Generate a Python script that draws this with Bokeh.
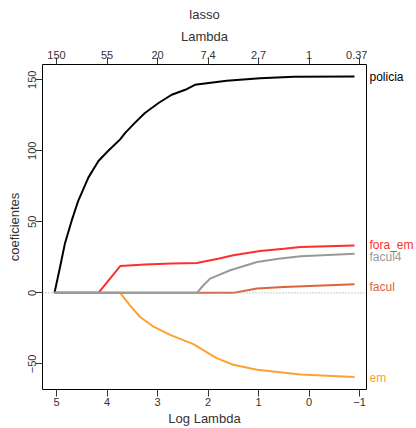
from bokeh.plotting import figure
from bokeh.models import Range1d, LinearAxis, FixedTicker, Title
from bokeh.layouts import row
from bokeh.embed import file_html
from bokeh.resources import INLINE
from bokeh.core.properties import value

# ---- data ----
series_names = ["policia", "fora_em", "em", "facul", "facul4"]
series_colors = ["#000000", "#FF2E2E", "#FFA12E", "#DB643A", "#999999"]

policia_x = [5.04, 4.93, 4.835, 4.70, 4.57, 4.37, 4.17, 3.98, 3.74, 3.64, 3.45, 3.25, 2.98, 2.72, 2.45, 2.26, 1.63, 0.97, 0.3, -0.9]
policia_y = [0, 18.2, 34.5, 50.8, 64.8, 81.1, 92.8, 99.8, 108, 112.6, 119.6, 126.6, 133.6, 139.4, 142.9, 146.4, 149.2, 151, 152, 152.3]

fora_em_x = [5.04, 4.17, 3.74, 3.25, 2.72, 2.22, 2.15, 1.8, 1.5, 0.97, 0.5, 0.17, -0.9]
fora_em_y = [0, 0, 18.9, 19.9, 20.6, 21, 21.5, 24, 26.4, 29.4, 31, 32.2, 33.4]

em_x = [5.04, 3.74, 3.55, 3.35, 3.08, 2.75, 2.29, 2.16, 1.83, 1.5, 1.03, 0.17, -0.9]
em_y = [0, 0, -8.6, -16.8, -23.8, -29.6, -36.1, -38.9, -45.9, -50.6, -54.1, -57.5, -59.2]

facul_x = [5.04, 1.5, 1.03, 0.5, -0.9]
facul_y = [0, 0, 3.1, 4.2, 6.1]

facul4_x = [5.04, 2.22, 2.1, 1.96, 1.56, 1.03, 0.6, 0.17, -0.9]
facul4_y = [0, 0, 5, 10, 15.9, 21.7, 24, 25.7, 27.5]

label_y = [152, 33.4, -59.6, 4, 25]

loglambda_ticks = [5, 4, 3, 2, 1, 0, -1]
lambda_labels = ["150", "55", "20", "7.4", "2.7", "1", "0.37"]
y_ticks = [-50, 0, 50, 100, 150]

xs_all = [policia_x, fora_em_x, em_x, facul_x, facul4_x]
ys_all = [policia_y, fora_em_y, em_y, facul_y, facul4_y]

FONT = "Liberation Sans"
TXT = "#333333"
TOP, BOTTOM = 63, 38

x_lo = max(max(xs) for xs in xs_all)
x_hi = min(min(xs) for xs in xs_all)
pad = 0.04 * (x_lo - x_hi)
yr = Range1d(-68, 160.7)

p = figure(width=367, height=428, output_backend="svg", toolbar_location=None,
           x_range=Range1d(x_lo + pad, x_hi - pad), y_range=yr,
           min_border_left=42, min_border_right=1, min_border_top=TOP, min_border_bottom=BOTTOM)
p.xgrid.visible = False
p.ygrid.visible = False
p.outline_line_color = "black"
p.outline_line_width = 1
p.background_fill_color = "white"
p.border_fill_color = "white"

for xs, ys, c in zip(xs_all, ys_all, series_colors):
    p.line(xs, ys, line_color=c, line_width=2)

# dotted zero line
p.line([x_lo + pad, x_hi - pad], [0, 0], line_color="#AAAAAA", line_width=1.2, line_dash="1 2")

def style_axis(ax):
    ax.axis_line_color = None
    ax.major_tick_line_color = TXT
    ax.minor_tick_line_color = None
    ax.major_tick_out = 7
    ax.major_tick_in = 0
    ax.major_label_text_font = FONT
    ax.major_label_text_font_size = "11px"
    ax.major_label_text_color = TXT
    ax.axis_label_text_font = FONT
    ax.axis_label_text_font_size = "13px"
    ax.axis_label_text_font_style = "normal"
    ax.axis_label_text_color = TXT

xa = p.xaxis[0]
xa.ticker = FixedTicker(ticks=loglambda_ticks)
xa.axis_label = "Log Lambda"
style_axis(xa)
xa.major_label_standoff = 1
xa.axis_label_standoff = 2

ya = p.yaxis[0]
ya.ticker = FixedTicker(ticks=y_ticks)
ya.axis_label = "coeficientes"
style_axis(ya)
ya.major_label_orientation = "vertical"
ya.major_label_standoff = -1
ya.axis_label_standoff = 4

top = LinearAxis(ticker=FixedTicker(ticks=loglambda_ticks),
                 major_label_overrides={t: l for t, l in zip(loglambda_ticks, lambda_labels)},
                 axis_label="Lambda")
style_axis(top)
top.major_label_standoff = -1
top.axis_label_standoff = 4
p.add_layout(top, "above")

p.title = Title(text="lasso", align="center", text_font=FONT, text_font_size="13px",
                text_font_style="normal", text_color=TXT, standoff=8)

# right-hand strip for the series labels, sharing the y range
q = figure(width=49, height=428, output_backend="svg", toolbar_location=None,
           x_range=Range1d(0, 1), y_range=yr,
           min_border_left=0, min_border_right=0, min_border_top=TOP, min_border_bottom=BOTTOM)
q.axis.visible = False
q.xgrid.visible = False
q.ygrid.visible = False
q.outline_line_color = None
q.background_fill_color = "white"
q.border_fill_color = "white"
q.text(x=[0] * len(series_names), y=label_y, text=series_names, text_color=series_colors,
       x_offset=2, text_font=value(FONT), text_font_size="12px",
       text_align="left", text_baseline="middle")

layout = row(p, q, spacing=0)
open("out.html", "w").write(file_html(layout, INLINE))
